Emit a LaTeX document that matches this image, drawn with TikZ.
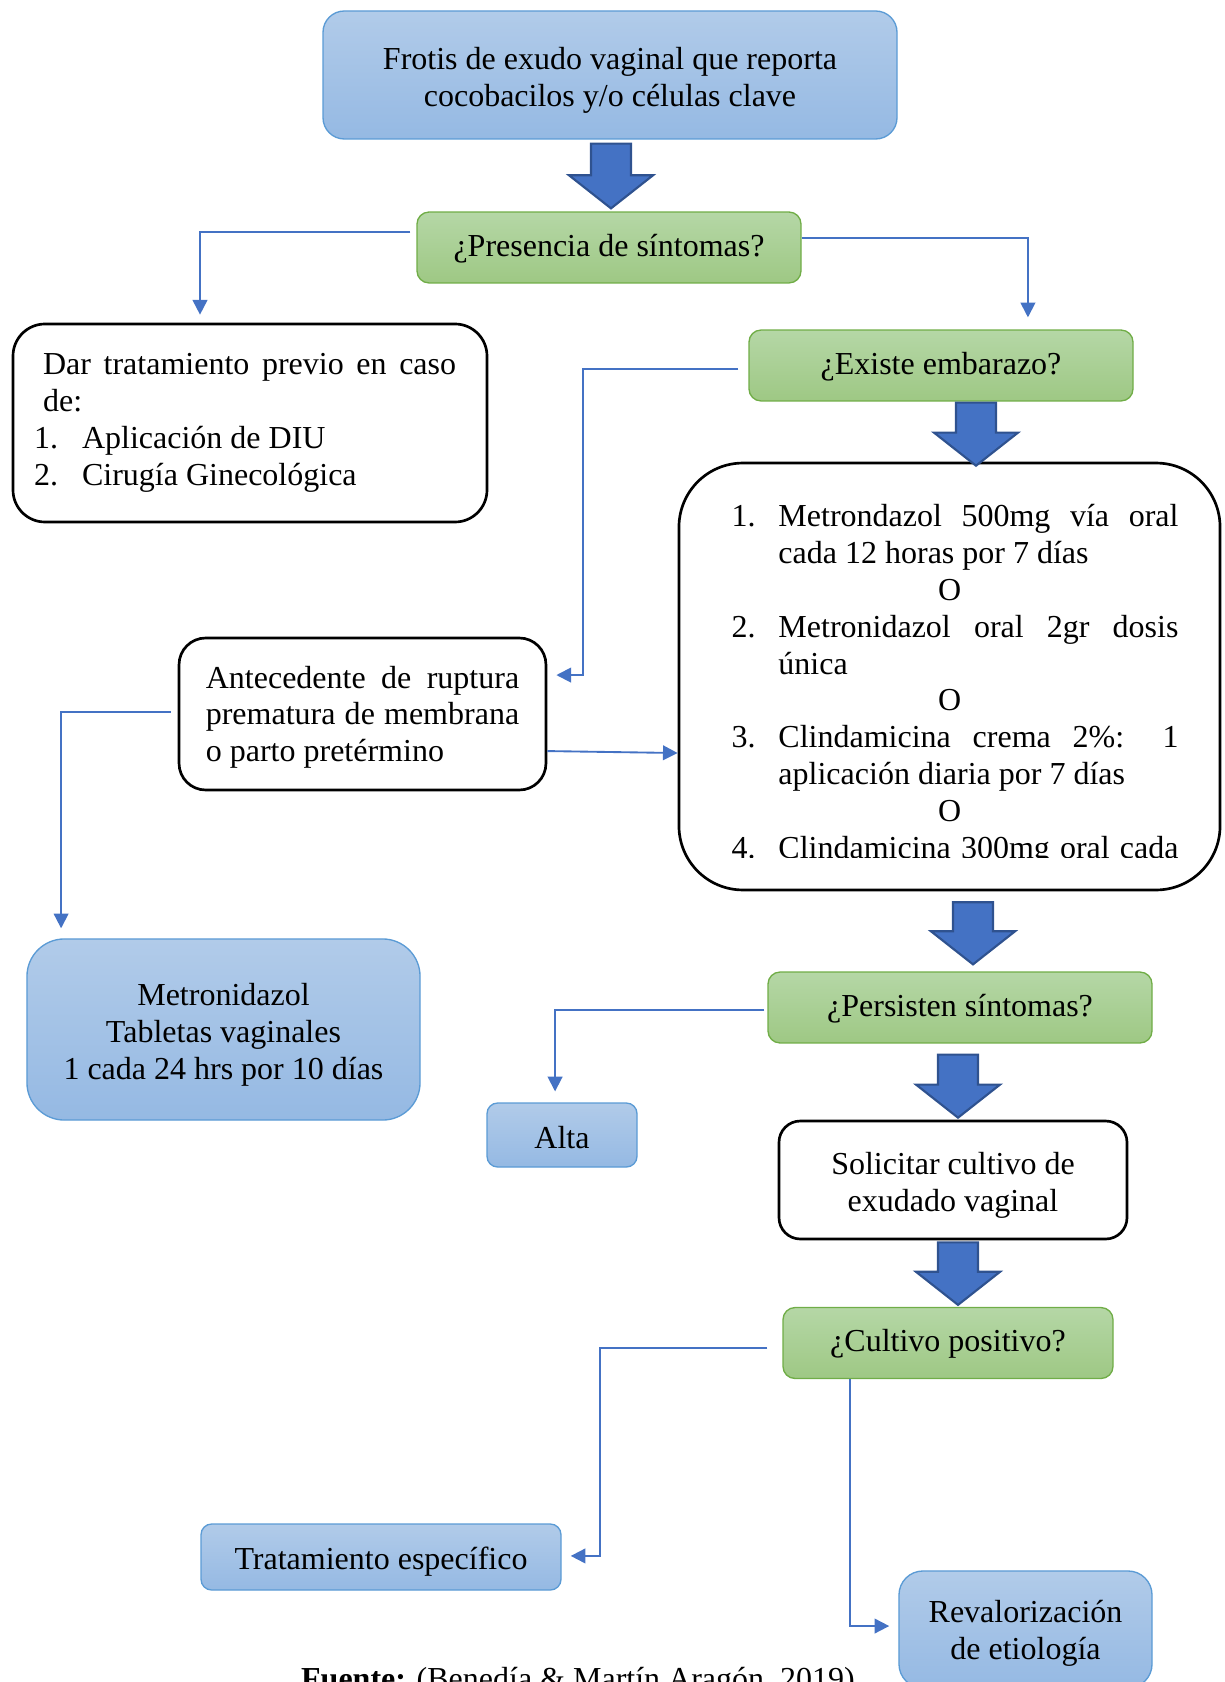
\documentclass[tikz,border=0pt]{standalone}
\usepackage{fontspec}
\setmainfont{Liberation Serif}
\usetikzlibrary{arrows.meta,calc}

\definecolor{blueTop}{HTML}{B1CBE9}
\definecolor{blueBottom}{HTML}{95B9E3}
\definecolor{blueEdge}{HTML}{5B9BD5}
\definecolor{greenTop}{HTML}{B5D7A6}
\definecolor{greenBottom}{HTML}{9EC884}
\definecolor{greenEdge}{HTML}{70AD47}
\definecolor{lineBlue}{HTML}{4472C4}
\definecolor{arrowEdge}{HTML}{2F528F}

\newcommand{\regItem}[2]{\hangindent=17.6pt\hangafter=1\noindent\makebox[17.6pt][l]{#1}#2\par}
\newcommand{\orLine}{{\centering\hspace*{-4pt}O\par}}

\begin{document}
\begin{tikzpicture}
[x=0.375pt,y=-0.375pt,
  font=\fontsize{12}{13.8}\selectfont,
  blueDecorate/.style={draw=blueEdge,line width=0.5pt,top color=blueTop,bottom color=blueBottom,
    rounded corners=#1,inner sep=0pt},
  blueDecorate/.default=4pt,
  greenDecorate/.style={draw=greenEdge,line width=0.5pt,top color=greenTop,bottom color=greenBottom,
    rounded corners=4.5pt,minimum height=26.6pt,inner sep=0pt},
  plainDecorate/.style={draw=black,line width=1pt,fill=white,rounded corners=#1,inner sep=0pt},
  boxText/.style={align=center,inner sep=0pt,yshift=-#1},
  lineDecorate/.style={draw=lineBlue,line width=0.7pt,-{Triangle[length=5.5pt,width=5.5pt]}},
  arrowDecorate/.style={fill=lineBlue,draw=arrowEdge,line width=0.8pt,line join=miter}]
\useasboundingbox (0,0) rectangle (1224,1682);

%% boxes
\node[blueDecorate=8pt,minimum width=215.25pt,minimum height=48pt,
  label={[boxText=2pt]center:Frotis de exudo vaginal que reporta\\cocobacilos y/o células clave}] (frotis) at (610,75) {};

\foreach \nodename/\x/\y/\w/\txt in {
  presencia/609/247.5/144pt/{¿Presencia de síntomas?},
  existe/941/365.5/144pt/{¿Existe embarazo?},
  persisten/960/1007.5/144pt/{¿Persisten síntomas?},
  cultivo/948/1343/123.75pt/{¿Cultivo positivo?}}
{
  \node (\nodename) at (\x,\y) [greenDecorate,minimum width=\w,label={[boxText=0.4pt]center:\txt}] {};
}

\node[plainDecorate=12pt,minimum width=177.75pt,minimum height=74.25pt,
  text width=177.75pt,align=justify] (dar) at (250,423)
  {\leftskip=7.9pt\rightskip=11.6pt
   {\leftskip=11.3pt\noindent Dar tratamiento previo en caso\linebreak de:\par}
   \noindent\makebox[18pt][l]{1.}Aplicación de DIU\par
   \noindent\makebox[18pt][l]{2.}Cirugía Ginecológica\par};

\node[plainDecorate=10pt,minimum width=137.6pt,minimum height=57pt,
  label={[boxText=1.2pt,text width=117.5pt,align=justify]center:Antecedente de ruptura\linebreak
    prematura de membrana\linebreak o parto pretérmino}] (antecedente) at (362.5,714) {};

\node[plainDecorate=24pt,minimum width=202.9pt,minimum height=160.1pt] (regimen) at (949.5,676.5) {};
\begin{scope}
  \clip (679,463) rectangle (1220,857);
  \node[text width=167.6pt,align=justify,anchor=base west,inner sep=0pt] (regimenText) at (731,527)
    {\regItem{1.}{Metrondazol 500mg vía oral\linebreak cada 12 horas por 7 días}
     \orLine
     \regItem{2.}{Metronidazol oral 2gr dosis\linebreak única}
     \orLine
     \regItem{3.}{Clindamicina crema 2\%: 1\linebreak aplicación diaria por 7 días}
     \orLine
     {\parfillskip=0pt \regItem{4.}{Clindamicina 300mg oral cada}}};
\end{scope}

\node[blueDecorate=14pt,minimum width=147.4pt,minimum height=67.9pt,
  label={[boxText=2pt]center:Metronidazol\\Tabletas vaginales\\1 cada 24 hrs por 10 días}] (metro) at (223.5,1029.5) {};
\node[blueDecorate,minimum width=56.25pt,minimum height=24pt,
  label={[boxText=0.8pt]center:Alta}] (alta) at (562,1135) {};
\node[plainDecorate=8pt,minimum width=130.5pt,minimum height=44.25pt,
  label={[boxText=2pt]center:Solicitar cultivo de\\exudado vaginal}] (solicitar) at (953,1180) {};
\node[blueDecorate,minimum width=135pt,minimum height=24.75pt,
  label={[boxText=1.6pt]center:Tratamiento específico}] (tratamiento) at (381,1557) {};
\node[blueDecorate=9pt,minimum width=94.9pt,minimum height=43.9pt,
  label={[boxText=1.3pt]center:Revalorización\\de etiología}] (revalorizacion) at (1025.5,1629.5) {};
\node[anchor=base,inner sep=0pt] (fuente) at (578,1689)
  {\textbf{Fuente:} (Benedía \& Martín Aragón, 2019)};

%% block arrows
\foreach \src/\dst/\arrX/\topGap/\tipGap in {
  frotis/presencia/611/4/3, existe/regimen/976/1/-4, regimen/persisten/973/11/7,
  persisten/solicitar/958/11/2, solicitar/cultivo/958/2/2}
{
  \draw[arrowDecorate] let \p1=(\src.south), \p2=(\dst.north), \p3=(\arrX,0) in
    ({\x3-7.5pt},{\y1-(\topGap)*0.375pt}) -- ({\x3+7.5pt},{\y1-(\topGap)*0.375pt})
    -- ({\x3+7.5pt},{\y2+(\tipGap)*0.375pt+12.4pt}) -- ({\x3+15.75pt},{\y2+(\tipGap)*0.375pt+12.4pt})
    -- ({\x3},{\y2+(\tipGap)*0.375pt})
    -- ({\x3-15.75pt},{\y2+(\tipGap)*0.375pt+12.4pt}) -- ({\x3-7.5pt},{\y2+(\tipGap)*0.375pt+12.4pt}) -- cycle;
}

%% connectors
\draw[lineDecorate] ([xshift=-2.25pt,yshift=5.8pt]presencia.west) -| ([xshift=-18.75pt,yshift=3pt]dar.north);
\draw[lineDecorate] ([yshift=3.6pt]presencia.east) -| ([xshift=32.6pt,yshift=4.5pt]existe.north);
\draw[lineDecorate] ([xshift=-3.75pt,yshift=-1.3pt]existe.west) -| ([xshift=13.5pt,yshift=14.6pt]antecedente.east)
  -- ([xshift=3.4pt,yshift=14.6pt]antecedente.east);
\draw[lineDecorate] ([xshift=-2.6pt,yshift=0.75pt]antecedente.west) -| ([xshift=-60.9pt,yshift=3.75pt]metro.north);
\draw[lineDecorate] ([yshift=-13.9pt]antecedente.east) -- ([yshift=-28.7pt]regimen.west);
\draw[lineDecorate] ([xshift=-1.1pt,yshift=-0.9pt]persisten.west) -| ([xshift=-2.6pt,yshift=4.1pt]alta.north);
\draw[lineDecorate] ([xshift=-5.6pt,yshift=-1.9pt]cultivo.west) -| ([xshift=14.25pt,yshift=0.4pt]tratamiento.east)
  -- ([xshift=3.4pt,yshift=0.4pt]tratamiento.east);
\draw[lineDecorate] ([xshift=-36.75pt]cultivo.south) |- ([xshift=-3.4pt,yshift=1.3pt]revalorizacion.west);
\end{tikzpicture}
\end{document}
